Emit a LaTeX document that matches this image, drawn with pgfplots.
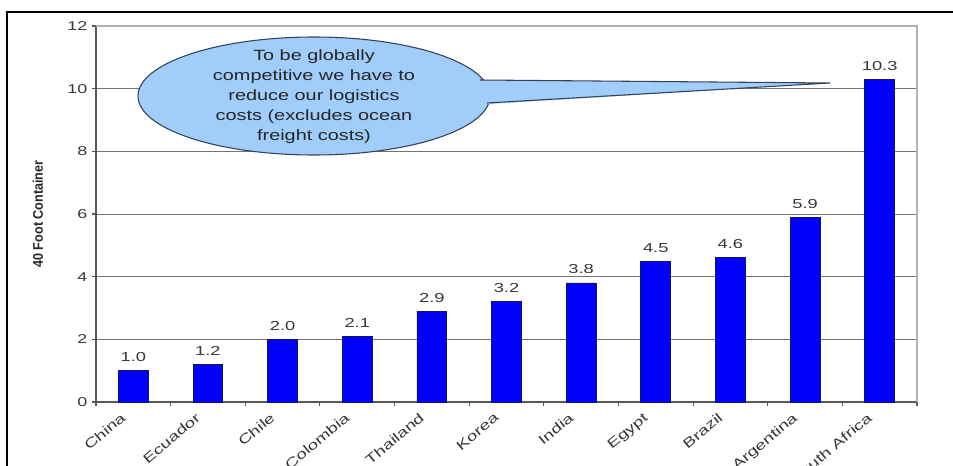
\documentclass[border=0pt]{standalone}
\usepackage{fontspec}
\setmainfont{Liberation Sans}[FakeStretch=1.4]
\newfontfamily\ylabfont{Liberation Sans}[FakeStretch=0.9]
\newfontfamily\callfont{Liberation Sans}[FakeStretch=1.33]
\usepackage{pgfplots}
\pgfplotsset{compat=1.18}
\definecolor{barblue}{RGB}{0,0,255}
\definecolor{baredge}{RGB}{20,20,100}
\definecolor{txtgray}{RGB}{55,55,55}
\definecolor{callfill}{RGB}{160,205,250}
\definecolor{calledge}{RGB}{55,65,85}
\begin{document}
\begin{tikzpicture}[x=0.75pt,y=0.75pt]
\path[use as bounding box] (0,0) rectangle (953,465);
\clip (0,0) rectangle (953,465);
\draw[line width=1.5pt] (7,-20) -- (7,453) -- (970,453);
\begin{axis}[
  at={(72pt,47.25pt)}, anchor=south west,
  scale only axis, width=615.75pt, height=282pt,
  xmin=-0.5, xmax=10.5, ymin=0, ymax=12,
  ytick={0,2,...,12},
  ymajorgrids, grid style={draw=black!55, line width=0.6pt},
  axis x line*=bottom, axis y line*=left,
  axis line style={draw=black!65, line width=0.8pt},
  xtick={0,...,10},
  xticklabels={China,Ecuador,Chile,Colombia,Thailand,Korea,India,Egypt,Brazil,Argentina,South Africa},
  minor xtick={-0.5,0.5,...,10.5},
  major x tick style={draw=none},
  minor x tick style={draw=black!65, line width=0.8pt},
  major y tick style={draw=black!65, line width=0.8pt},
  tick align=outside, major tick length=3pt, minor tick length=3pt,
  /pgf/number format/assume math mode=true,
  x tick label style={rotate=40, anchor=north east, font=\fontsize{10}{12}\selectfont, text=txtgray, yshift=6.3pt, xshift=-7pt},
  y tick label style={font=\fontsize{9.6}{11}\selectfont, text=txtgray},
  ylabel={40 Foot Container},
  every axis y label/.style={at={(axis description cs:-0.0707,0.5)}, rotate=90, anchor=center},
  ylabel style={font=\ylabfont\bfseries\fontsize{10.5}{12}\selectfont, text=black!85},
  clip=false,
]
\draw[draw=black!30, line width=0.8pt] (rel axis cs:0,1) -- (rel axis cs:1,1) -- (rel axis cs:1,0);
\addplot[ybar, bar width=0.4, fill=barblue, draw=baredge, line width=0.6pt,
  nodes near coords,
  nodes near coords style={font=\fontsize{9.8}{11}\selectfont, text=txtgray, yshift=3pt,
    /pgf/number format/.cd, fixed, fixed zerofill, precision=1, assume math mode=true}]
  coordinates {(0,1.0) (1,1.2) (2,2.0) (3,2.1) (4,2.9) (5,3.2) (6,3.8) (7,4.5) (8,4.6) (9,5.9) (10,10.3)};
\end{axis}
% callout
\fill[callfill] (314,369) ellipse [x radius=132pt, y radius=44.25pt];
\draw[calledge, line width=0.8pt] (314,369) ellipse [x radius=132pt, y radius=44.25pt];
\fill[callfill] (476,385) -- (830,382) -- (490,361) -- (440,361) -- (440,385) -- cycle;
\draw[calledge, line width=0.8pt] (480,385) -- (830,382) -- (487,362);
\node[align=center, font=\callfont\fontsize{11.2}{15}\selectfont, text=black!85] at (314,368)
  {To be globally\\competitive we have to\\reduce our logistics\\costs (excludes ocean\\freight costs)};
\end{tikzpicture}
\end{document}
